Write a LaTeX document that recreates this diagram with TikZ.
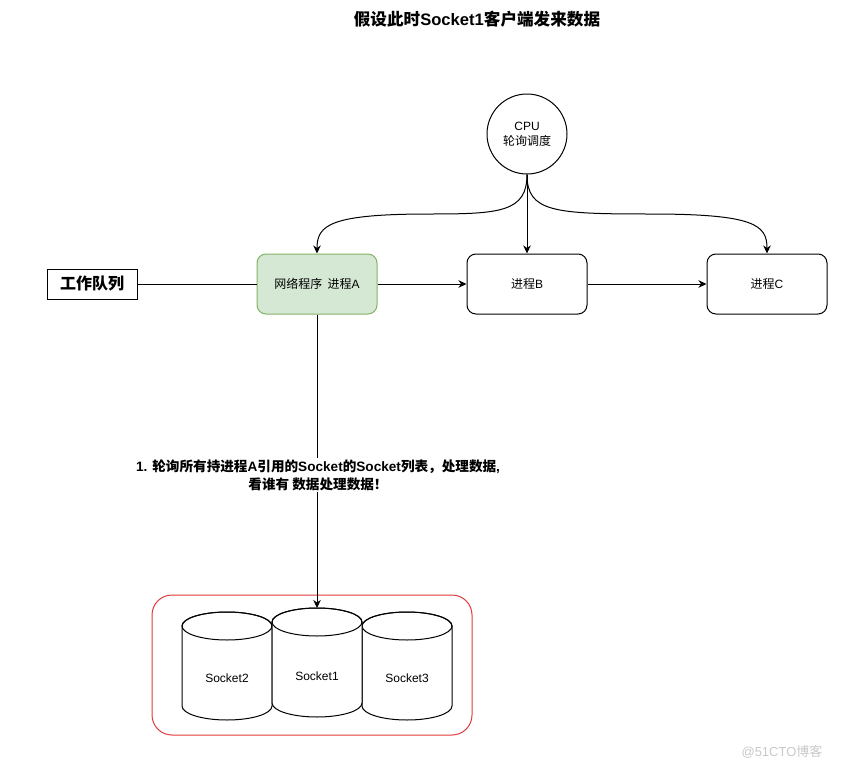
\documentclass[tikz,border=0pt]{standalone}
\usepackage{fontspec}
\setmainfont{Liberation Sans}
\newfontfamily\cjk{Noto Sans CJK SC}
\newcommand{\C}[1]{{\cjk #1}}
\usetikzlibrary{arrows.meta}
\definecolor{gfill}{HTML}{D5E8D4}
\definecolor{gline}{HTML}{82B366}
\definecolor{redline}{HTML}{E03A3A}
\definecolor{wmark}{HTML}{C8C8C8}
\tikzset{
  arr/.style={-{Stealth[length=8pt,width=7.5pt,inset=2.5pt]},line width=1pt},
  plain/.style={line width=1pt},
  procbox/.style={draw,line width=1pt,rounded corners=9pt,minimum width=120pt,minimum height=60pt,inner sep=0pt,font=\fontsize{12}{14}\selectfont},
  cylstyle/.style={draw,line width=1pt,fill=white},
  cyltext/.style={font=\fontsize{12}{14}\selectfont},
}
\newcommand{\drawcyl}[5]{%
  \draw[cylstyle] (#1-45,#2+14) -- (#1-45,#3-14)
     arc[start angle=180,end angle=360,x radius=45pt,y radius=14pt]
     -- (#1+45,#2+14)
     arc[start angle=0,end angle=180,x radius=45pt,y radius=14pt] -- cycle;
  \draw[line width=1pt] (#1,#2+14) ellipse[x radius=45pt,y radius=14pt];
  \node[cyltext] (#4) at (#1,#5) {\csname cyllabel#4\endcsname};
}
\newcommand{\cyllabelsa}{Socket2}
\newcommand{\cyllabelsb}{Socket1}
\newcommand{\cyllabelsc}{Socket3}
\begin{document}
\begin{tikzpicture}[x=1pt,y=-1pt]
\useasboundingbox (0,0) rectangle (841,771);
% title
\node[font=\fontsize{16.6}{18}\selectfont\bfseries] (title) at (477,19) {\C{假设此时}Socket1\C{客户端发来数据}};
% CPU
\node[draw,circle,line width=1pt,minimum size=80pt,inner sep=0pt,align=center,font=\fontsize{12}{15}\selectfont] (cpu) at (527,134) {CPU\\\C{轮询调度}};
% queue
\node[draw,line width=1pt,minimum width=90pt,minimum height=30pt,inner sep=0pt,font=\fontsize{16}{18}\selectfont\bfseries] (queue) at (92,284) {\C{工作队列}};
% processes
\node[procbox,fill=gfill,draw=gline] (pa) at (317,284) {\C{网络程序\ \ 进程}A};
\node[procbox] (pb) at (527,284) {\C{进程}B};
\node[procbox] (pc) at (767,284) {\C{进程}C};
% edges
\draw[plain] (queue) -- (pa);
\draw[arr] (pa) -- (pb);
\draw[arr] (pb) -- (pc);
\draw[arr] (cpu.south) -- (pb.north);
\draw[arr] (cpu.south) .. controls (527,212) and (500,214) .. (430,214) .. controls (330,214) and (317,225) .. (pa.north);
\draw[arr] (cpu.south) .. controls (527,212) and (554,214) .. (650,214) .. controls (755,214) and (767,225) .. (pc.north);
% container
\draw[draw=redline,line width=1pt,rounded corners=20pt] (152,595) rectangle (472,735);
\drawcyl{227}{612}{720}{sa}{678}
\drawcyl{407}{612}{720}{sc}{678}
\drawcyl{317}{608}{717}{sb}{676}
\coordinate (s1top) at (317,608);
\draw[arr] (pa.south) -- (s1top);
\node[fill=white,inner sep=1pt,align=center,font=\fontsize{13.6}{18}\selectfont\bfseries] (lbl) at (318,475) {1. \C{轮询所有持进程}A\C{引用的}Socket\C{的}Socket\C{列表，处理数据},\\\C{看谁有 数据处理数据！}};
% watermark
\node[text=wmark,font=\fontsize{13}{15}\selectfont] (wm) at (782,752) {@51CTO\C{博客}};
\end{tikzpicture}
\end{document}
